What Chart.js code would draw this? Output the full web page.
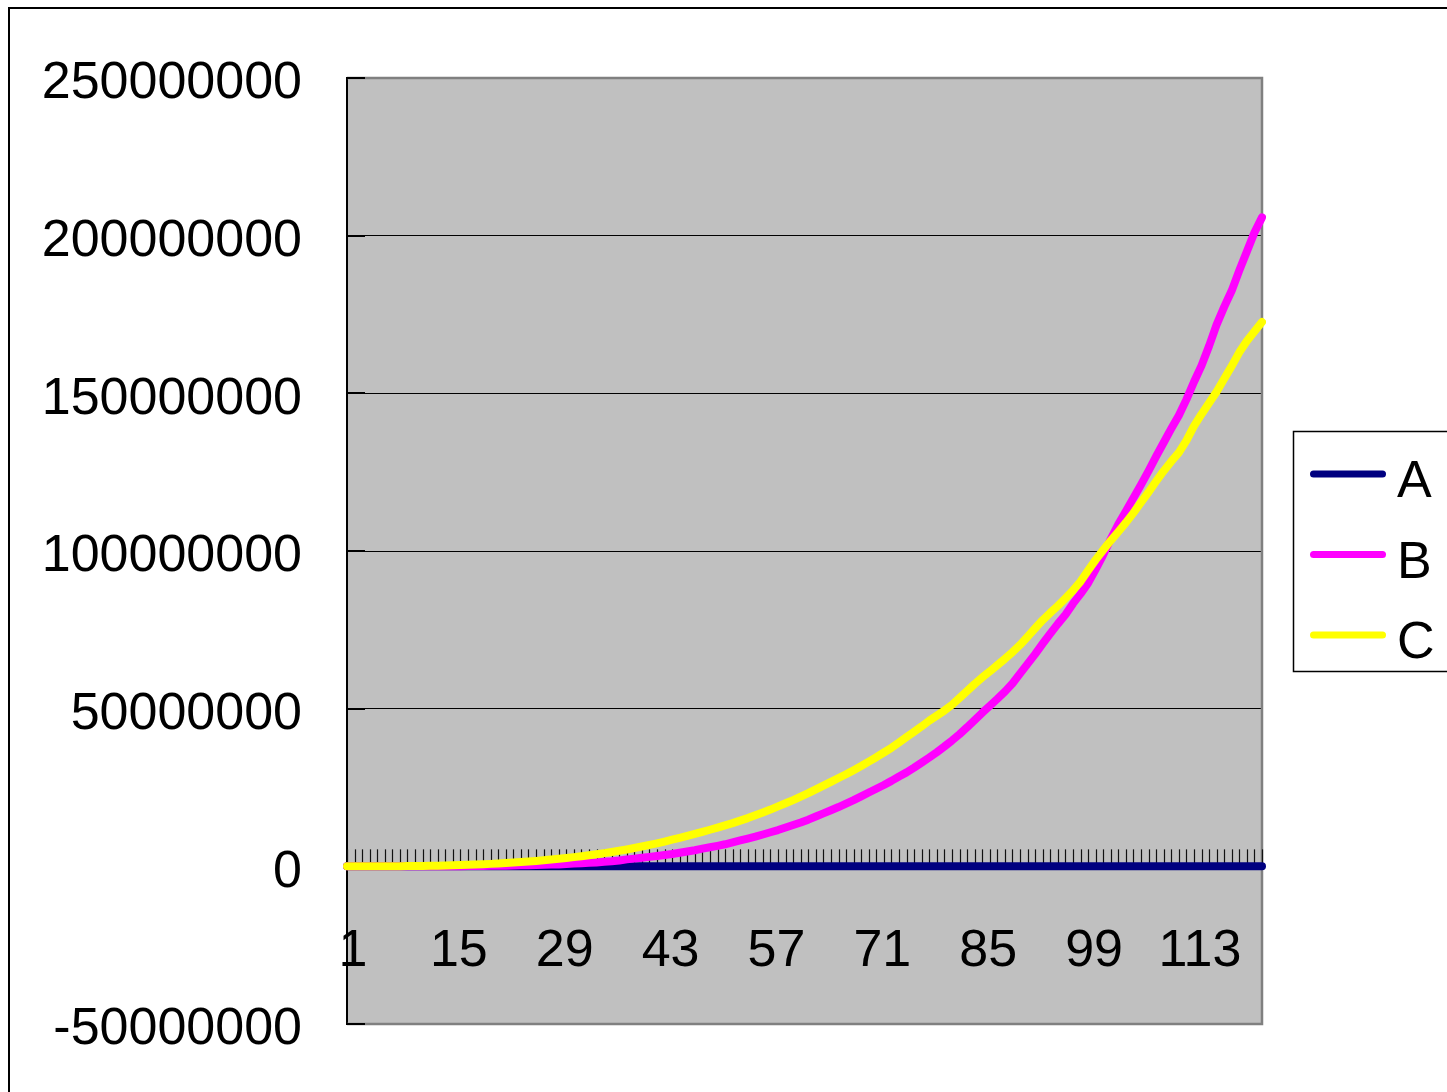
<!DOCTYPE html>
<html>
<head>
<meta charset="utf-8">
<title>A / B / C</title>
<script src="https://cdn.jsdelivr.net/npm/chart.js@4.4.1/dist/chart.umd.min.js"></script>
<style>
  html, body { margin: 0; padding: 0; background: #fff; }
  canvas { display: block; }
</style>
</head>
<body>
<canvas id="chart" width="1447" height="1092"></canvas>
<script>
// Category axis: periods 1..122
const categories = [
  1, 2, 3, 4, 5, 6, 7, 8, 9, 10, 11, 12, 13, 14, 15, 16, 17, 18, 19, 20,
  21, 22, 23, 24, 25, 26, 27, 28, 29, 30, 31, 32, 33, 34, 35, 36, 37, 38, 39, 40,
  41, 42, 43, 44, 45, 46, 47, 48, 49, 50, 51, 52, 53, 54, 55, 56, 57, 58, 59, 60,
  61, 62, 63, 64, 65, 66, 67, 68, 69, 70, 71, 72, 73, 74, 75, 76, 77, 78, 79, 80,
  81, 82, 83, 84, 85, 86, 87, 88, 89, 90, 91, 92, 93, 94, 95, 96, 97, 98, 99, 100,
  101, 102, 103, 104, 105, 106, 107, 108, 109, 110, 111, 112, 113, 114, 115, 116, 117, 118, 119, 120,
  121, 122
];

// Category labels shown under the axis
const xTickLabels = [1, 15, 29, 43, 57, 71, 85, 99, 113];

// Value axis ticks
const yTickValues = [-50000000, 0, 50000000, 100000000, 150000000, 200000000, 250000000];

const seriesNames = ['A', 'B', 'C'];

const seriesA = [
  0, 0, 0, 0, 0, 0, 0, 0, 0, 0, 0, 0, 0, 0, 0, 0, 0, 0, 0, 0,
  0, 0, 0, 0, 0, 0, 0, 0, 0, 0, 0, 0, 0, 0, 0, 0, 0, 0, 0, 0,
  0, 0, 0, 0, 0, 0, 0, 0, 0, 0, 0, 0, 0, 0, 0, 0, 0, 0, 0, 0,
  0, 0, 0, 0, 0, 0, 0, 0, 0, 0, 0, 0, 0, 0, 0, 0, 0, 0, 0, 0,
  0, 0, 0, 0, 0, 0, 0, 0, 0, 0, 0, 0, 0, 0, 0, 0, 0, 0, 0, 0,
  0, 0, 0, 0, 0, 0, 0, 0, 0, 0, 0, 0, 0, 0, 0, 0, 0, 0, 0, 0,
  0, 0
];

const seriesB = [
  0, 0, 0, 0, 0, 0, 0, 0, 0.01e6, 0.01e6, 0.01e6, 0.02e6, 0.03e6, 0.04e6, 0.05e6, 0.06e6, 0.08e6, 0.1e6, 0.12e6, 0.15e6,
  0.18e6, 0.22e6, 0.26e6, 0.31e6, 0.36e6, 0.43e6, 0.5e6, 0.57e6, 0.6e6, 0.75e6,
  0.86e6, 0.98e6, 1.1e6, 1.25e6, 1.45e6, 1.62e6, 1.85e6, 2.2e6, 2.45e6, 2.7e6,
  3.0e6, 3.3e6, 3.6e6, 3.9e6, 4.3e6, 4.7e6, 5.1e6, 5.6e6, 6.05e6, 6.5e6,
  7.0e6, 7.6e6, 8.2e6, 8.8e6, 9.4e6, 10.1e6, 10.8e6, 11.5e6, 12.3e6, 13.1e6,
  13.9e6, 14.8e6, 15.8e6, 16.8e6, 17.8e6, 18.8e6, 19.9e6, 21.0e6, 22.2e6, 23.4e6,
  24.6e6, 25.8e6, 27.1e6, 28.5e6, 29.8e6, 31.3e6, 32.9e6, 34.5e6, 36.2e6, 38.0e6,
  39.9e6, 41.9e6, 44.1e6, 46.4e6, 48.7e6, 50.9e6, 53.1e6, 55.4e6, 58.0e6, 61.1e6,
  64.2e6, 67.3e6, 70.6e6, 73.8e6, 76.9e6, 79.8e6, 83.3e6, 86.4e6, 89.8e6, 94.2e6,
  98.8e6, 103.8e6, 108.5e6, 112.6e6, 116.8e6, 121.0e6, 125.4e6, 130.0e6, 134.4e6, 138.8e6,
  143.0e6, 148.0e6, 153.6e6, 158.8e6, 165.0e6, 171.8e6, 177.4e6, 182.6e6, 189.0e6, 195.0e6,
  201.0e6, 205.8e6
];

const seriesC = [
  0, 0, 0, 0.01e6, 0.01e6, 0.02e6, 0.03e6, 0.05e6, 0.07e6, 0.1e6, 0.13e6, 0.17e6, 0.21e6, 0.26e6, 0.32e6, 0.39e6, 0.47e6, 0.56e6, 0.66e6, 0.78e6,
  0.9e6, 1.03e6, 1.18e6, 1.34e6, 1.52e6, 1.71e6, 1.92e6, 2.14e6, 2.38e6, 2.64e6,
  2.92e6, 3.2e6, 3.5e6, 3.85e6, 4.2e6, 4.55e6, 4.95e6, 5.35e6, 5.8e6, 6.3e6,
  6.8e6, 7.3e6, 7.85e6, 8.45e6, 9.05e6, 9.65e6, 10.3e6, 10.95e6, 11.6e6, 12.3e6,
  13.0e6, 13.7e6, 14.5e6, 15.3e6, 16.2e6, 17.1e6, 18.0e6, 19.0e6, 20.0e6, 21.0e6,
  22.1e6, 23.2e6, 24.4e6, 25.6e6, 26.8e6, 28.0e6, 29.2e6, 30.5e6, 31.8e6, 33.2e6,
  34.6e6, 36.1e6, 37.6e6, 39.3e6, 41.0e6, 42.7e6, 44.4e6, 46.2e6, 47.8e6, 49.4e6,
  51.2e6, 53.4e6, 55.6e6, 57.8e6, 59.9e6, 61.8e6, 63.8e6, 65.8e6, 67.9e6, 70.2e6,
  72.8e6, 75.5e6, 78.1e6, 80.4e6, 82.6e6, 85.0e6, 87.5e6, 90.3e6, 93.8e6, 97.2e6,
  100.3e6, 103.3e6, 106.1e6, 109.0e6, 112.1e6, 115.4e6, 118.7e6, 122.1e6, 125.4e6, 128.4e6,
  131.2e6, 135.0e6, 139.6e6, 143.4e6, 146.9e6, 150.5e6, 154.6e6, 158.7e6, 163.0e6, 166.6e6,
  169.6e6, 172.6e6
];

const seriesColors = ['#000080', '#ff00ff', '#ffff00'];

const FONT = '"Liberation Sans", Arial, Helvetica, sans-serif';
Chart.defaults.font.family = FONT;
Chart.defaults.color = '#000';

// Page frame, grey plot area, its border and the small axis tick marks
const plotDecor = {
  id: 'plotDecor',
  beforeDraw(chart) {
    const { ctx, chartArea: a } = chart;
    ctx.save();
    ctx.fillStyle = '#ffffff';
    ctx.fillRect(0, 0, chart.width, chart.height);
    ctx.strokeStyle = '#000000';
    ctx.lineWidth = 2;
    ctx.beginPath();
    ctx.moveTo(9, chart.height + 5);
    ctx.lineTo(9, 8);
    ctx.lineTo(chart.width + 5, 8);
    ctx.stroke();
    ctx.fillStyle = '#c0c0c0';
    ctx.fillRect(a.left, a.top, a.right - a.left, a.bottom - a.top);
    ctx.restore();
  },
  beforeDatasetsDraw(chart) {
    const { ctx, chartArea: a, scales } = chart;
    const xs = scales.x, ys = scales.y;
    ctx.save();
    ctx.strokeStyle = '#808080';
    ctx.lineWidth = 2.5;
    ctx.beginPath();
    ctx.moveTo(a.left, a.top);
    ctx.lineTo(a.right, a.top);
    ctx.lineTo(a.right, a.bottom);
    ctx.lineTo(a.left, a.bottom);
    ctx.stroke();

    // value-axis tick marks pointing into the plot
    ctx.strokeStyle = '#000000';
    ctx.lineWidth = 2;
    ys.ticks.forEach(t => {
      const py = Math.round(ys.getPixelForValue(t.value));
      ctx.beginPath();
      ctx.moveTo(a.left, py);
      ctx.lineTo(a.left + 18, py);
      ctx.stroke();
    });

    // category tick marks rising from the zero line
    const y0 = ys.getPixelForValue(0);
    ctx.strokeStyle = '#111111';
    ctx.lineWidth = 1.2;
    categories.forEach((c, i) => {
      const px = Math.round(xs.getPixelForValue(i)) + 0.5;
      ctx.beginPath();
      ctx.moveTo(px, y0 - 17);
      ctx.lineTo(px, y0);
      ctx.stroke();
    });
    ctx.restore();
  },
  afterDraw(chart) {
    // legend box on the right
    const { ctx } = chart;
    ctx.save();
    ctx.fillStyle = '#ffffff';
    ctx.fillRect(1293, 431, 200, 240);
    ctx.strokeStyle = '#000000';
    ctx.lineWidth = 1.5;
    ctx.strokeRect(1293.5, 431.5, 200, 240);
    ctx.font = '52px ' + FONT;
    ctx.textAlign = 'left';
    ctx.textBaseline = 'alphabetic';
    chart.data.datasets.forEach((ds, i) => {
      const cy = 474 + i * 80.5;
      ctx.strokeStyle = ds.borderColor;
      ctx.lineWidth = 7;
      ctx.lineCap = 'round';
      ctx.beginPath();
      ctx.moveTo(1313.5, cy);
      ctx.lineTo(1382.5, cy);
      ctx.stroke();
      ctx.fillStyle = '#000000';
      ctx.fillText(ds.label, 1397, cy + 23);
    });
    ctx.restore();
  }
};

const seriesValues = [seriesA, seriesB, seriesC];

new Chart(document.getElementById('chart'), {
  type: 'line',
  data: {
    labels: categories.map(String),
    datasets: seriesNames.map((name, i) => ({
      label: name,
      data: seriesValues[i],
      borderColor: seriesColors[i],
      backgroundColor: seriesColors[i],
      borderWidth: 8,
      borderCapStyle: 'round',
      borderJoinStyle: 'round',
      pointRadius: 0,
      pointHoverRadius: 0,
      tension: 0,
      fill: false,
      order: seriesNames.length - i
    }))
  },
  options: {
    responsive: false,
    animation: false,
    devicePixelRatio: 1,
    layout: { padding: { left: 0, top: 78, right: 185, bottom: 68 } },
    plugins: {
      legend: { display: false },
      tooltip: { enabled: false }
    },
    scales: {
      x: {
        type: 'category',
        position: { y: 0 },
        offset: false,
        grid: { display: false, drawTicks: false },
        border: { display: true, color: '#000000', width: 1 },
        ticks: {
          autoSkip: false,
          maxRotation: 0,
          minRotation: 0,
          padding: 54,
          labelOffset: 6,
          color: '#000000',
          font: { size: 52 },
          callback(value) {
            const lab = Number(this.getLabelForValue(value));
            return xTickLabels.includes(lab) ? String(lab) : '';
          }
        }
      },
      y: {
        min: yTickValues[0],
        max: yTickValues[yTickValues.length - 1],
        afterBuildTicks(scale) {
          scale.ticks = yTickValues.map(v => ({ value: v }));
        },
        grid: {
          drawTicks: true,
          tickLength: 45,
          tickColor: 'rgba(0,0,0,0)',
          lineWidth: 1,
          color(c) {
            const v = c.tick ? c.tick.value : null;
            return (v === yTickValues[0] || v === yTickValues[yTickValues.length - 1]) ? 'rgba(0,0,0,0)' : '#000000';
          }
        },
        border: { display: true, color: '#000000', width: 2 },
        ticks: {
          padding: 0,
          labelOffset: 6,
          color: '#000000',
          font: { size: 52 },
          callback: v => String(v)
        },
        afterFit(scale) { scale.width = 347; }
      }
    }
  },
  plugins: [plotDecor]
});
</script>
</body>
</html>
